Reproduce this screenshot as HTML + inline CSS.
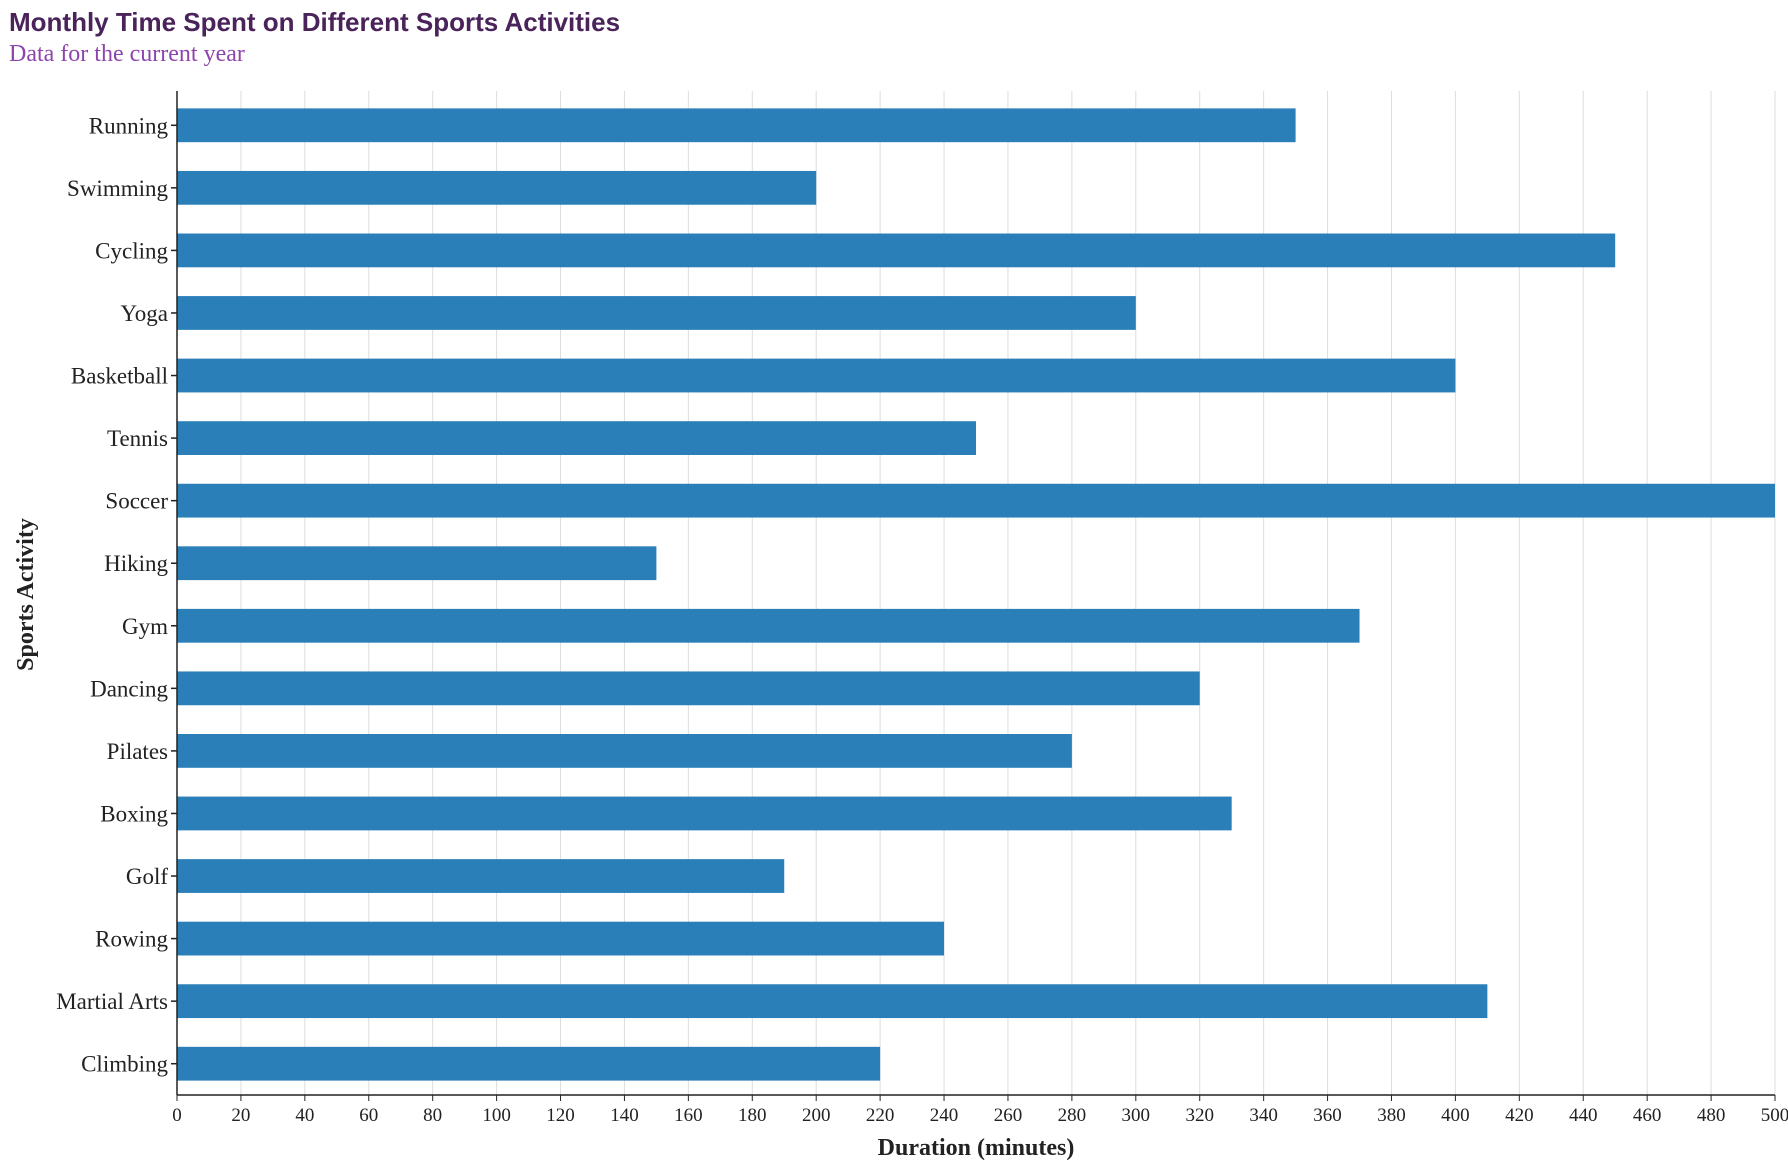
<!DOCTYPE html>
<html><head><meta charset="utf-8"><style>
body{margin:0;background:#fff}
svg text{font-family:"Liberation Serif",serif}
</style></head><body>
<svg id="c" width="1788" height="1168" xmlns="http://www.w3.org/2000/svg">
<text x="9" y="31" style="font-family:'Liberation Sans',sans-serif" font-size="26" font-weight="bold" fill="#4a235a">Monthly Time Spent on Different Sports Activities</text>
<text x="9" y="61" font-size="24" fill="#8e44ad">Data for the current year</text>
<g id="grid"></g><g id="bars"></g><g id="axes"></g>
</svg>
<script>
const categories=["Running","Swimming","Cycling","Yoga","Basketball","Tennis","Soccer","Hiking","Gym","Dancing","Pilates","Boxing","Golf","Rowing","Martial Arts","Climbing"];
const values=[350,200,450,300,400,250,500,150,370,320,280,330,190,240,410,220];
const ticks=[0,20,40,60,80,100,120,140,160,180,200,220,240,260,280,300,320,340,360,380,400,420,440,460,480,500];
const NS="http://www.w3.org/2000/svg";
const L=177,R=1775,T=94,B=1095,max=500;
const x=v=>L+(R-L)*v/max;
const band=(B-T)/categories.length;
const y=i=>T+band*i;
const bh=band*0.54;
function mk(t,a,p){const e=document.createElementNS(NS,t);for(const k in a)e.setAttribute(k,a[k]);document.getElementById(p).appendChild(e);return e;}
ticks.forEach(t=>{
 const g=mk('line',{x1:x(t),x2:x(t),y1:91,y2:B,stroke:'#dddddd','stroke-width':1},'grid');
 
 
 const tk=mk('line',{x1:x(t),x2:x(t),y1:B,y2:B+6,stroke:'#222','stroke-width':1},'axes');
 
 
 const tl=mk('text',{x:x(t),y:B+26,'font-size':19,'text-anchor':'middle',fill:'#222'},'axes');
 tl.textContent=t;
 
 
});
categories.forEach((c,i)=>{
 const cy=y(i)+band/2;
 const r=mk('rect',{x:L,y:cy-bh/2,width:x(values[i])-L,height:bh,fill:'#2a7fb8'},'bars');
 
 
 const tk=mk('line',{x1:L-6,x2:L,y1:cy,y2:cy,stroke:'#222','stroke-width':1.5},'axes');
 
 
 const tl=mk('text',{x:L-9,y:cy+8,'font-size':23,'text-anchor':'end',fill:'#222'},'axes');
 tl.textContent=c;
 
 
});
const ya=mk('line',{x1:L,x2:L,y1:91,y2:B,stroke:'#222','stroke-width':1.5},'axes');


const xa=mk('line',{x1:L,x2:R,y1:B,y2:B,stroke:'#222','stroke-width':1.5},'axes');


const xt=mk('text',{x:(L+R)/2,y:1155,'font-size':24,'font-weight':'bold','text-anchor':'middle',fill:'#222'},'axes');
xt.textContent='Duration (minutes)';


const yt=mk('text',{x:0,y:0,'font-size':24,'font-weight':'bold','text-anchor':'middle',fill:'#222',transform:'translate(33,'+((T+B)/2)+') rotate(-90)'},'axes');
yt.textContent='Sports Activity';


</script>
</body></html>
